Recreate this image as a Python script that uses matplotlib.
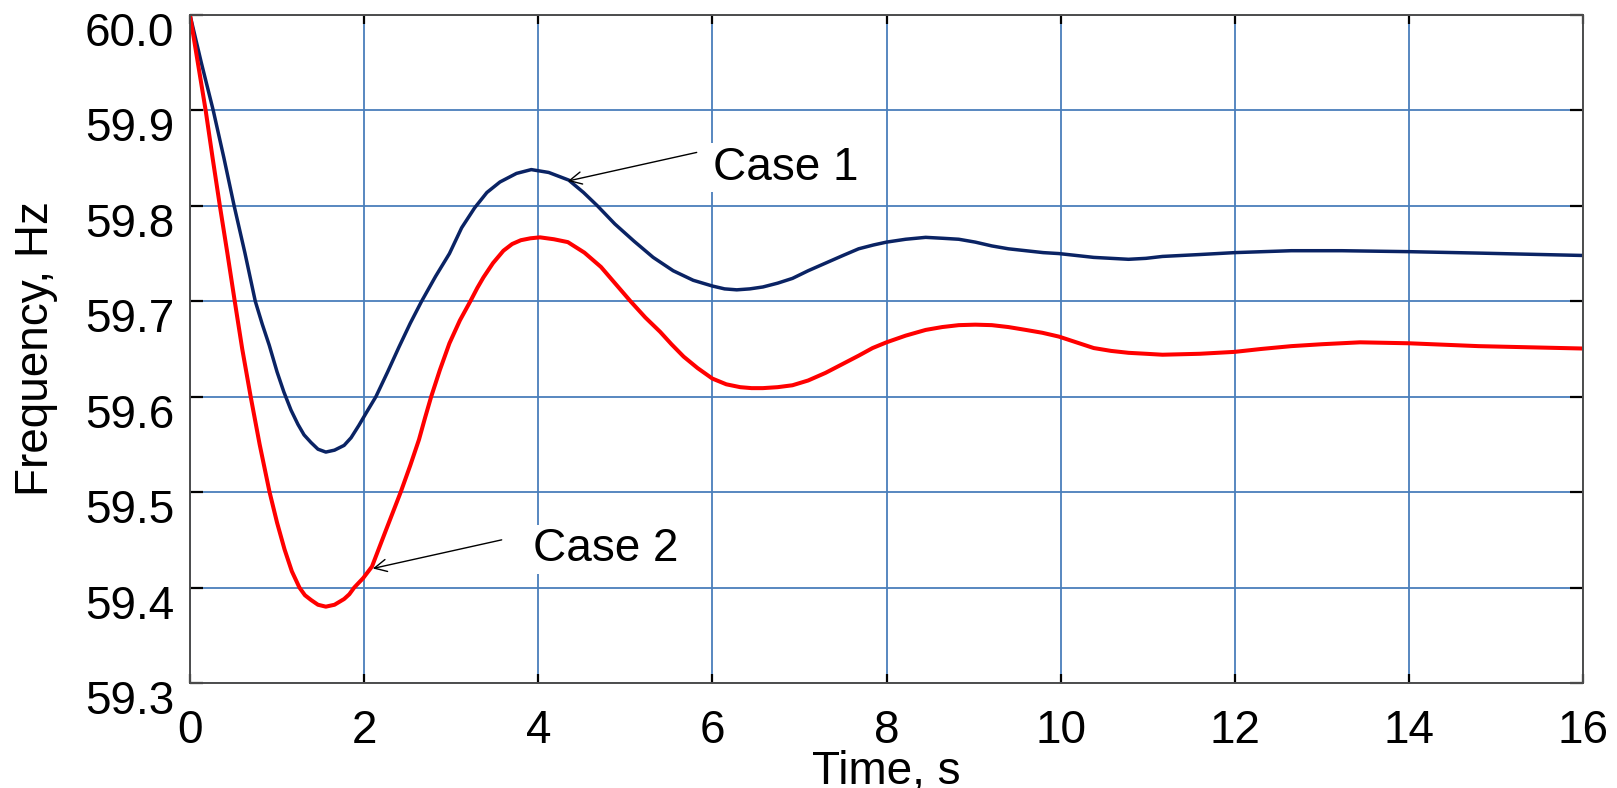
import numpy as np
import matplotlib
matplotlib.use("Agg")
import matplotlib.pyplot as plt
import matplotlib.transforms as mtransforms

plt.rcParams["font.family"] = ["Liberation Sans", "DejaVu Sans"]

# ---- data (time in s, frequency in Hz)
t_case1 = [0, 0.13, 0.267, 0.39, 0.507, 0.63, 0.75, 0.83, 0.91, 1.0, 1.078,
           1.16, 1.24, 1.31, 1.39, 1.47, 1.56, 1.66, 1.77, 1.85, 1.94, 2.03,
           2.135, 2.27, 2.40, 2.53, 2.66, 2.82, 2.98, 3.12, 3.27, 3.41, 3.56,
           3.75, 3.92, 4.12, 4.35, 4.52, 4.68, 4.88, 5.10, 5.32, 5.55, 5.78,
           6.0, 6.14, 6.28, 6.43, 6.58, 6.75, 6.92, 7.10, 7.30, 7.50, 7.68,
           7.85, 8.0, 8.22, 8.45, 8.65, 8.83, 9.02, 9.21, 9.40, 9.60, 9.80,
           9.98, 10.18, 10.38, 10.58, 10.78, 10.98, 11.17, 11.6, 12.0, 12.65,
           13.23, 14.0, 14.8, 16.0]
f_case1 = [60.0, 59.95, 59.9, 59.85, 59.8, 59.751, 59.7, 59.676, 59.654,
           59.626, 59.605, 59.586, 59.571, 59.560, 59.552, 59.545, 59.542,
           59.544, 59.549, 59.557, 59.570, 59.584, 59.6, 59.626, 59.652,
           59.677, 59.7, 59.726, 59.750, 59.777, 59.798, 59.814, 59.825,
           59.834, 59.838, 59.835, 59.827, 59.814, 59.8, 59.781, 59.763,
           59.746, 59.732, 59.722, 59.716, 59.713, 59.712, 59.713, 59.715,
           59.719, 59.724, 59.732, 59.740, 59.748, 59.755, 59.759, 59.762,
           59.765, 59.767, 59.766, 59.765, 59.762, 59.758, 59.755, 59.753,
           59.751, 59.750, 59.748, 59.746, 59.745, 59.744, 59.745, 59.747,
           59.749, 59.751, 59.753, 59.753, 59.752, 59.7505, 59.748]

t_case2 = [0, 0.09, 0.18, 0.26, 0.343, 0.43, 0.514, 0.60, 0.697, 0.80, 0.914,
           1.0, 1.086, 1.17, 1.257, 1.32, 1.39, 1.47, 1.56, 1.66, 1.77, 1.83,
           1.886, 1.99, 2.09, 2.25, 2.42, 2.53, 2.63, 2.70, 2.77, 2.87, 2.98,
           3.10, 3.22, 3.30, 3.37, 3.48, 3.60, 3.70, 3.80, 3.91, 4.02, 4.18,
           4.34, 4.53, 4.72, 4.89, 5.06, 5.23, 5.40, 5.53, 5.67, 5.83, 6.0,
           6.16, 6.32, 6.45, 6.58, 6.75, 6.92, 7.10, 7.30, 7.49, 7.68, 7.84,
           8.0, 8.22, 8.45, 8.64, 8.83, 9.02, 9.21, 9.40, 9.60, 9.79, 9.98,
           10.18, 10.38, 10.58, 10.78, 10.98, 11.17, 11.6, 12.0, 12.3, 12.65,
           13.0, 13.44, 14.0, 14.8, 16.0]
f_case2 = [60.0, 59.95, 59.9, 59.85, 59.8, 59.75, 59.7, 59.65, 59.6, 59.55,
           59.5, 59.468, 59.440, 59.417, 59.4, 59.392, 59.387, 59.382, 59.380,
           59.382, 59.388, 59.393, 59.4, 59.41, 59.422, 59.46, 59.5, 59.528,
           59.555, 59.578, 59.6, 59.628, 59.656, 59.680, 59.7, 59.714, 59.725,
           59.740, 59.753, 59.760, 59.764, 59.766, 59.767, 59.765, 59.762,
           59.751, 59.736, 59.718, 59.7, 59.683, 59.668, 59.655, 59.642,
           59.630, 59.619, 59.613, 59.610, 59.609, 59.609, 59.610, 59.612,
           59.617, 59.625, 59.634, 59.643, 59.651, 59.657, 59.664, 59.670,
           59.673, 59.675, 59.6755, 59.675, 59.673, 59.670, 59.667, 59.663,
           59.657, 59.651, 59.648, 59.646, 59.645, 59.644, 59.645, 59.647,
           59.650, 59.653, 59.655, 59.657, 59.656, 59.653, 59.6505]

x_ticks = [0, 2, 4, 6, 8, 10, 12, 14, 16]
y_ticks = [59.3, 59.4, 59.5, 59.6, 59.7, 59.8, 59.9, 60.0]
y_ticklabels = ["59.3", "59.4", "59.5", "59.6", "59.7", "59.8", "59.9", "60.0"]

# annotation anchors: (label pos, arrow tail, arrow tip)
case1_text, case1_tail, case1_tip = (6.01, 59.840), (5.82, 59.856), (4.34, 59.826)
case2_text, case2_tail, case2_tip = (3.94, 59.440), (3.58, 59.450), (2.10, 59.420)

FS = 33
GRID = "#4a7ebb"

fig = plt.figure(figsize=(16.17, 7.88), dpi=100)
ax = fig.add_axes([190 / 1617, 1 - 683 / 788, 1393 / 1617, 668 / 788])
ax.set_axisbelow(True)

ax.plot(t_case1, f_case1, color="#0a2364", lw=2.5, solid_joinstyle="round")
ax.plot(t_case2, f_case2, color="#ff0000", lw=2.9, solid_joinstyle="round")

ax.set_xlim(0, 16)
ax.set_ylim(59.3, 60.0)
ax.set_xticks(x_ticks)
ax.set_yticks(y_ticks)
ax.set_yticklabels(y_ticklabels)
ax.grid(True, color=GRID, lw=1.3)

ax.tick_params(axis="both", direction="in", top=True, right=True,
               labelsize=FS, color="black", width=1.6)
ax.tick_params(axis="x", length=6.5, pad=18.5)
ax.tick_params(axis="y", length=9.4, pad=11.5)
for s in ax.spines.values():
    s.set_color("#4d4d4d")
    s.set_linewidth(1.4)

for txt, tail, tip, pos in [("Case 1", case1_tail, case1_tip, case1_text),
                            ("Case 2", case2_tail, case2_tip, case2_text)]:
    ax.annotate("", xy=tip, xytext=tail,
                arrowprops=dict(arrowstyle="->", color="black", lw=1.0,
                                mutation_scale=22, shrinkA=0, shrinkB=0))
    ax.text(pos[0], pos[1], txt, fontsize=FS, va="center", ha="left",
            bbox=dict(facecolor="white", edgecolor="none", pad=2))

fig.text(36 / 1617, 1 - 349 / 788, "Frequency, Hz", rotation=90,
         fontsize=FS, ha="center", va="center")
fig.text(0.5 * (190 + 1583) / 1617, 4 / 788, "Time, s", fontsize=FS,
         ha="center", va="baseline")

fig.canvas.draw()
shift = mtransforms.ScaledTranslation(0, -0.14, fig.dpi_scale_trans)
for lab in ax.get_yticklabels():
    lab.set_transform(lab.get_transform() + shift)

fig.savefig("out.png", dpi=100)
